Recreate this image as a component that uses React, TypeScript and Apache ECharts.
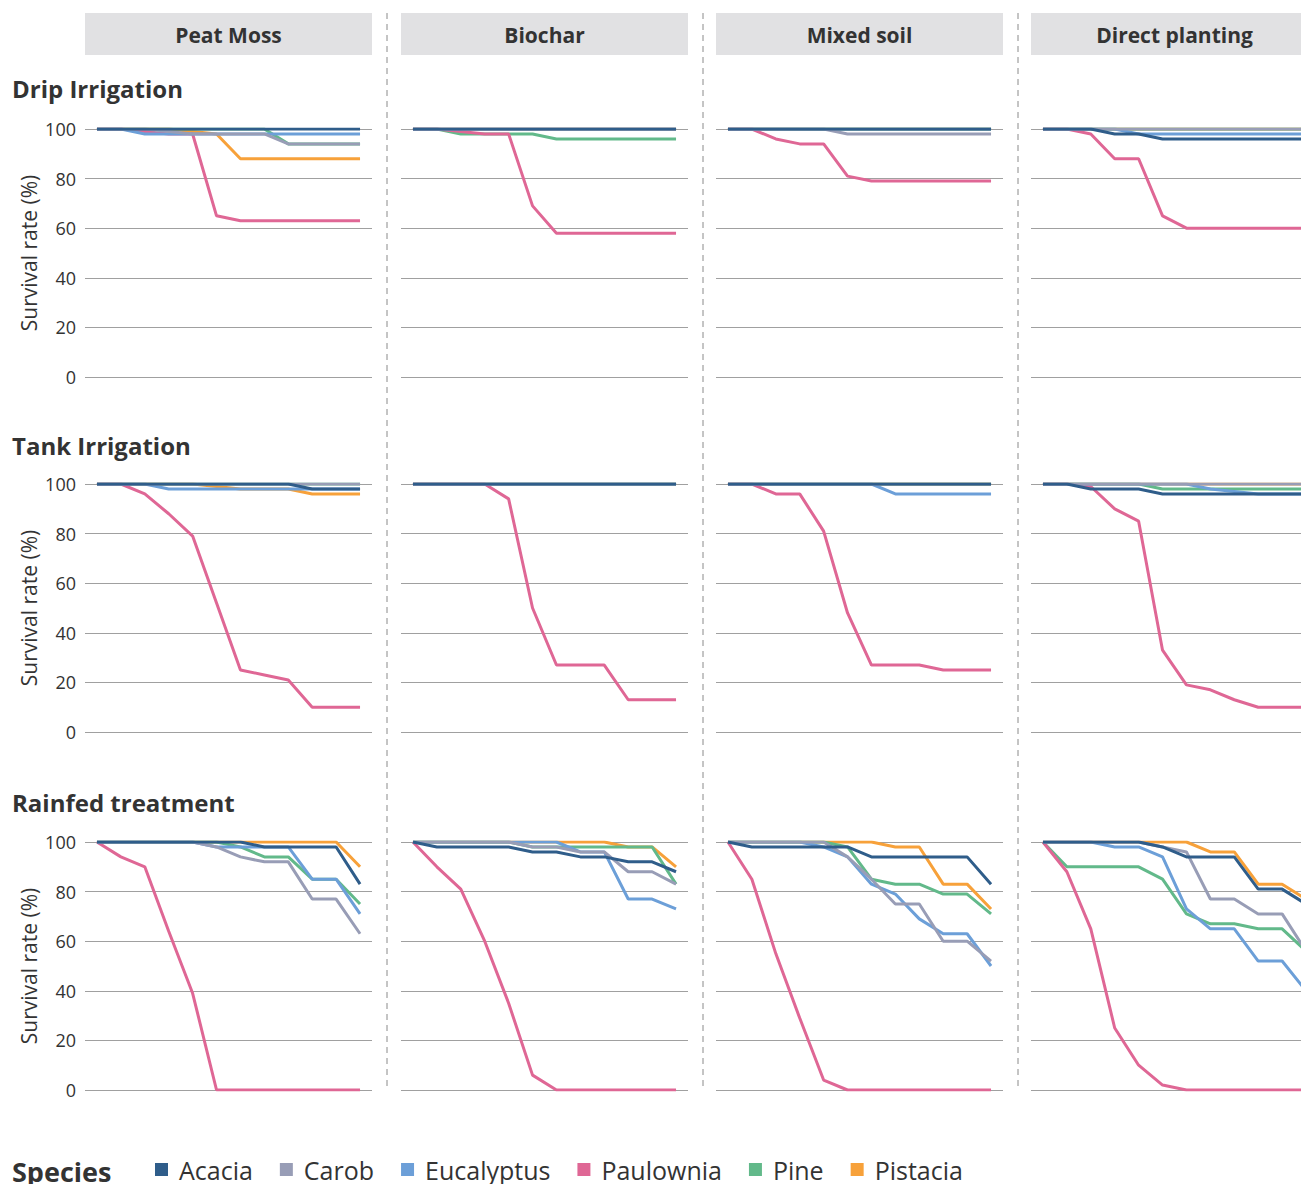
import React, { useEffect, useRef } from 'react';
import * as echarts from 'echarts';

const timePoints = ['1', '2', '3', '4', '5', '6', '7', '8', '9', '10', '11', '12'];
const methods = ['Peat Moss', 'Biochar', 'Mixed soil', 'Direct planting'];
const treatments = ['Drip Irrigation', 'Tank Irrigation', 'Rainfed treatment'];
const species = ['Acacia', 'Carob', 'Eucalyptus', 'Paulownia', 'Pine', 'Pistacia'];
const yTicks = [0, 20, 40, 60, 80, 100];

const full = [100, 100, 100, 100, 100, 100, 100, 100, 100, 100, 100, 100];

// Drip irrigation
const dripPeatMoss = {
  Acacia: full,
  Carob: [100, 100, 100, 99, 98, 98, 98, 98, 94, 94, 94, 94],
  Eucalyptus: [100, 100, 98, 98, 98, 98, 98, 98, 98, 98, 98, 98],
  Paulownia: [100, 100, 99, 98, 98, 65, 63, 63, 63, 63, 63, 63],
  Pine: [100, 100, 100, 100, 100, 100, 100, 100, 94, 94, 94, 94],
  Pistacia: [100, 100, 100, 100, 99, 98, 88, 88, 88, 88, 88, 88],
};
const dripBiochar = {
  Acacia: full,
  Carob: full,
  Eucalyptus: full,
  Paulownia: [100, 100, 99, 98, 98, 69, 58, 58, 58, 58, 58, 58],
  Pine: [100, 100, 98, 98, 98, 98, 96, 96, 96, 96, 96, 96],
  Pistacia: full,
};
const dripMixedSoil = {
  Acacia: full,
  Carob: [100, 100, 100, 100, 100, 98, 98, 98, 98, 98, 98, 98],
  Eucalyptus: full,
  Paulownia: [100, 100, 96, 94, 94, 81, 79, 79, 79, 79, 79, 79],
  Pine: full,
  Pistacia: full,
};
const dripDirect = {
  Acacia: [100, 100, 100, 98, 98, 96, 96, 96, 96, 96, 96, 96],
  Carob: full,
  Eucalyptus: [100, 100, 100, 100, 98, 98, 98, 98, 98, 98, 98, 98],
  Paulownia: [100, 100, 98, 88, 88, 65, 60, 60, 60, 60, 60, 60],
  Pine: full,
  Pistacia: full,
};

// Tank irrigation
const tankPeatMoss = {
  Acacia: [100, 100, 100, 100, 100, 100, 100, 100, 100, 98, 98, 98],
  Carob: full,
  Eucalyptus: [100, 100, 100, 98, 98, 98, 98, 98, 98, 98, 98, 98],
  Paulownia: [100, 100, 96, 88, 79, 52, 25, 23, 21, 10, 10, 10],
  Pine: full,
  Pistacia: [100, 100, 100, 100, 100, 99, 98, 98, 98, 96, 96, 96],
};
const tankBiochar = {
  Acacia: full,
  Carob: full,
  Eucalyptus: full,
  Paulownia: [100, 100, 100, 100, 94, 50, 27, 27, 27, 13, 13, 13],
  Pine: full,
  Pistacia: full,
};
const tankMixedSoil = {
  Acacia: full,
  Carob: full,
  Eucalyptus: [100, 100, 100, 100, 100, 100, 100, 96, 96, 96, 96, 96],
  Paulownia: [100, 100, 96, 96, 81, 48, 27, 27, 27, 25, 25, 25],
  Pine: full,
  Pistacia: full,
};
const tankDirect = {
  Acacia: [100, 100, 98, 98, 98, 96, 96, 96, 96, 96, 96, 96],
  Carob: full,
  Eucalyptus: [100, 100, 100, 100, 100, 100, 100, 98, 97, 96, 96, 96],
  Paulownia: [100, 100, 99, 90, 85, 33, 19, 17, 13, 10, 10, 10],
  Pine: [100, 100, 100, 100, 100, 98, 98, 98, 98, 98, 98, 98],
  Pistacia: full,
};

// Rainfed treatment
const rainPeatMoss = {
  Acacia: [100, 100, 100, 100, 100, 100, 100, 98, 98, 98, 98, 83],
  Carob: [100, 100, 100, 100, 100, 98, 94, 92, 92, 77, 77, 63],
  Eucalyptus: [100, 100, 100, 100, 100, 98, 98, 98, 98, 85, 85, 71],
  Paulownia: [100, 94, 90, 64, 39, 0, 0, 0, 0, 0, 0, 0],
  Pine: [100, 100, 100, 100, 100, 100, 98, 94, 94, 85, 85, 75],
  Pistacia: [100, 100, 100, 100, 100, 100, 100, 100, 100, 100, 100, 90],
};
const rainBiochar = {
  Acacia: [100, 98, 98, 98, 98, 96, 96, 94, 94, 92, 92, 88],
  Carob: [100, 100, 100, 100, 100, 98, 98, 96, 96, 88, 88, 83],
  Eucalyptus: [100, 100, 100, 100, 100, 100, 100, 96, 96, 77, 77, 73],
  Paulownia: [100, 90, 81, 60, 35, 6, 0, 0, 0, 0, 0, 0],
  Pine: [100, 100, 100, 100, 100, 98, 98, 98, 98, 98, 98, 83],
  Pistacia: [100, 100, 100, 100, 100, 100, 100, 100, 100, 98, 98, 90],
};
const rainMixedSoil = {
  Acacia: [100, 98, 98, 98, 98, 98, 94, 94, 94, 94, 94, 83],
  Carob: [100, 100, 100, 100, 100, 94, 85, 75, 75, 60, 60, 52],
  Eucalyptus: [100, 100, 100, 100, 98, 94, 83, 79, 69, 63, 63, 50],
  Paulownia: [100, 85, 55, 29, 4, 0, 0, 0, 0, 0, 0, 0],
  Pine: [100, 100, 100, 100, 100, 98, 85, 83, 83, 79, 79, 71],
  Pistacia: [100, 100, 100, 100, 100, 100, 100, 98, 98, 83, 83, 73],
};
const rainDirect = {
  Acacia: [100, 100, 100, 100, 100, 98, 94, 94, 94, 81, 81, 75],
  Carob: [100, 100, 100, 100, 100, 98, 96, 77, 77, 71, 71, 56],
  Eucalyptus: [100, 100, 100, 98, 98, 94, 73, 65, 65, 52, 52, 40],
  Paulownia: [100, 88, 65, 25, 10, 2, 0, 0, 0, 0, 0, 0],
  Pine: [100, 90, 90, 90, 90, 85, 71, 67, 67, 65, 65, 56],
  Pistacia: [100, 100, 100, 100, 100, 100, 100, 96, 96, 83, 83, 77],
};

const panelData = [
  [dripPeatMoss, dripBiochar, dripMixedSoil, dripDirect],
  [tankPeatMoss, tankBiochar, tankMixedSoil, tankDirect],
  [rainPeatMoss, rainBiochar, rainMixedSoil, rainDirect],
];

const speciesColors: Record<string, string> = {
  Acacia: '#2f5d8a',
  Carob: '#989db6',
  Eucalyptus: '#6c9fd8',
  Paulownia: '#df6795',
  Pine: '#62b98a',
  Pistacia: '#f7a13a',
};
const drawOrder = ['Pistacia', 'Pine', 'Paulownia', 'Eucalyptus', 'Carob', 'Acacia'];

const FONT = '"Open Sans", "Noto Sans", sans-serif';
const gridLefts = [85, 401, 716, 1031];
const gridTops = [129, 484, 842];
const gridW = 287;
const gridH = 248;
const separators = [387, 703, 1018];

export default function App() {
  const ref = useRef<HTMLDivElement>(null);

  useEffect(() => {
    if (!ref.current) return;
    const chart = echarts.init(ref.current, null, { renderer: 'svg' });

    const grids: any[] = [];
    const xAxes: any[] = [];
    const yAxes: any[] = [];
    const series: any[] = [];
    let idx = 0;
    treatments.forEach((_, r) => {
      methods.forEach((_, c) => {
        grids.push({
          left: gridLefts[c],
          top: gridTops[r],
          width: gridW,
          height: gridH,
          containLabel: false,
          outerBoundsMode: 'none',
        });
        xAxes.push({
          type: 'category',
          gridIndex: idx,
          data: timePoints,
          boundaryGap: true,
          show: false,
        });
        yAxes.push({
          type: 'value',
          gridIndex: idx,
          min: yTicks[0],
          max: yTicks[yTicks.length - 1],
          interval: 20,
          name: c === 0 ? 'Survival rate (%)' : '',
          nameLocation: 'middle',
          nameRotate: 90,
          nameGap: 46,
          nameTextStyle: { fontSize: 21, color: '#333', fontFamily: FONT },
          axisLine: { show: false },
          axisTick: { show: false },
          axisLabel: {
            show: c === 0,
            fontSize: 18,
            color: '#333',
            fontFamily: FONT,
            margin: 9,
          },
          splitLine: { show: true, lineStyle: { color: '#a0a0a0', width: 1.2 } },
        });
        const panel: any = panelData[r][c];
        drawOrder.forEach((sp) => {
          series.push({
            type: 'line',
            name: sp,
            xAxisIndex: idx,
            yAxisIndex: idx,
            data: panel[sp],
            symbol: 'none',
            showSymbol: false,
            lineStyle: { color: speciesColors[sp], width: 3 },
            itemStyle: { color: speciesColors[sp] },
            emphasis: { disabled: true },
          });
        });
        idx++;
      });
    });

    const graphic: any[] = [];
    methods.forEach((m, c) => {
      graphic.push({
        type: 'rect',
        shape: { x: gridLefts[c], y: 13, width: gridW, height: 42 },
        style: { fill: '#e1e1e3' },
      });
      graphic.push({
        type: 'text',
        x: gridLefts[c] + gridW / 2,
        y: 35,
        style: {
          text: m,
          fill: '#333',
          fontSize: 21,
          fontWeight: 'bold',
          fontFamily: FONT,
          textAlign: 'center',
          textVerticalAlign: 'middle',
        },
      });
    });
    const rowTitleY = [88, 445, 802];
    treatments.forEach((t, r) => {
      graphic.push({
        type: 'text',
        x: 12,
        y: rowTitleY[r],
        style: {
          text: t,
          fill: '#333',
          fontSize: 24,
          fontWeight: 'bold',
          fontFamily: FONT,
          textAlign: 'left',
          textVerticalAlign: 'middle',
        },
      });
    });
    separators.forEach((x) => {
      graphic.push({
        type: 'line',
        shape: { x1: x, y1: 13, x2: x, y2: 1090 },
        style: { stroke: '#8a8a8a', lineWidth: 1, lineDash: [6, 5] },
      });
    });
    graphic.push({
      type: 'text',
      x: 12,
      y: 1171,
      style: {
        text: 'Species',
        fill: '#333',
        fontSize: 27,
        fontWeight: 'bold',
        fontFamily: FONT,
        textAlign: 'left',
        textVerticalAlign: 'middle',
      },
    });

    chart.setOption({
      animation: false,
      grid: grids,
      xAxis: xAxes,
      yAxis: yAxes,
      series,
      graphic,
      legend: {
        data: species,
        left: 155,
        top: 1157,
        padding: 0,
        icon: 'rect',
        itemWidth: 13,
        itemHeight: 13,
        itemGap: 27,
        selectedMode: false,
        textStyle: { fontSize: 25, color: '#333', fontFamily: FONT, padding: [0, 0, 0, 6] },
      },
    });

    return () => chart.dispose();
  }, []);

  return (
    <div
      ref={ref}
      style={{ position: 'absolute', left: 0, top: 0, width: 1301, height: 1184, background: '#fff' }}
    />
  );
}
